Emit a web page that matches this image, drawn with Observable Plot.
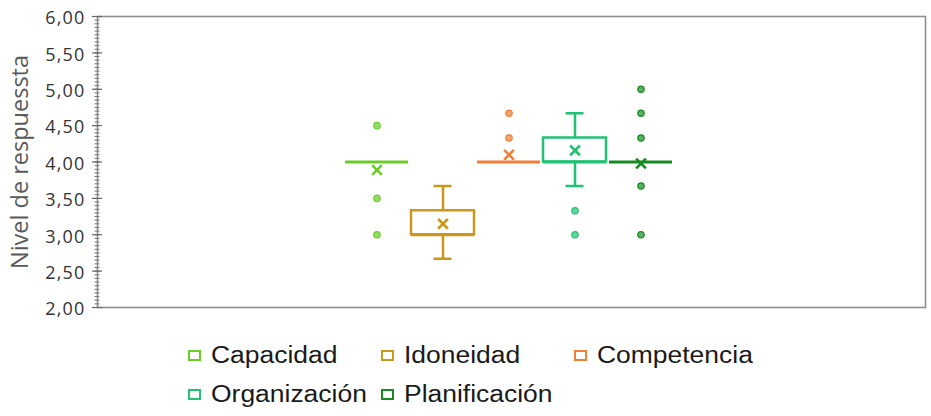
<!DOCTYPE html>
<html>
<head>
<meta charset="utf-8">
<script src="https://cdn.jsdelivr.net/npm/d3@7"></script>
<script src="https://cdn.jsdelivr.net/npm/@observablehq/plot@0.6"></script>
<style>
  body { margin: 0; background: #fff; }
  #chart svg { display: block; }
  #chart g[aria-label="y-axis tick label"] text { letter-spacing: 1.2px; }
  .legend { display: grid; grid-template-columns: repeat(3, 193px); grid-auto-rows: 39px; padding-left: 188px; margin-top: 16px; font-family: "Liberation Sans", Arial, sans-serif; font-size: 23px; color: #1a1a1a; }
  .item { display: flex; align-items: center; }
  .sw { width: 13px; height: 11px; box-sizing: border-box; border: 2.8px solid; background: #fff; margin-right: 10px; flex: none; }
  .tx { display: inline-block; transform: scaleX(1.15); transform-origin: left center; white-space: nowrap; }
</style>
</head>
<body>
<div id="chart"></div>
<div class="legend" id="legend"></div>
<script>
const categories = ["Capacidad", "Idoneidad", "Competencia", "Organización", "Planificación"];
const colors = ["#6acd28", "#c8991a", "#f07f38", "#22c274", "#178b22"];
const q1 =     [4.00, 3.00, 4.00, 4.00, 4.00];
const median = [4.00, 3.00, 4.00, 4.00, 4.00];
const q3 =     [4.00, 3.33, 4.00, 4.33, 4.00];
const whiskerLow =  [4.00, 2.67, 4.00, 3.67, 4.00];
const whiskerHigh = [4.00, 3.67, 4.00, 4.67, 4.00];
const mean =   [3.89, 3.15, 4.10, 4.16, 3.98];
const outliers = [
  ["Capacidad", [4.5, 3.5, 3.0]],
  ["Idoneidad", []],
  ["Competencia", [4.67, 4.33]],
  ["Organización", [3.33, 3.0]],
  ["Planificación", [5.0, 4.67, 4.33, 3.67, 3.0]]
];
const yTicks = [2, 2.5, 3, 3.5, 4, 4.5, 5, 5.5, 6];
const yLabel = "Nivel de respuessta";

const stats = categories.map((c, i) => ({
  cat: c, q1: q1[i], median: median[i], q3: q3[i],
  lo: whiskerLow[i], hi: whiskerHigh[i], mean: mean[i]
}));
const outlierRows = outliers.flatMap(([c, vs]) => vs.map(v => ({cat: c, value: v})));
const minorTicks = d3.range(200, 601, 5).map(d => d / 100);
const fmt = d => d.toFixed(2).replace(".", ",");
const color = {domain: categories, range: colors};
const whiskered = stats.filter(d => d.hi > d.lo);

const plot = Plot.plot({
  width: 931,
  height: 320,
  marginLeft: 97,
  marginRight: 6,
  marginTop: 16,
  marginBottom: 13,
  style: {fontFamily: "Open Sans, sans-serif", background: "#fff"},
  x: {domain: categories, range: [342, 675], paddingInner: 0.05, paddingOuter: 0.025, axis: null},
  y: {domain: [2, 6]},
  color,
  marks: [
    Plot.frame({stroke: "#8f8f8f", strokeWidth: 1.6}),
    Plot.axisY({ticks: minorTicks, tickSize: 5, dx: 2.5, text: null, stroke: "#777", strokeWidth: 1}),
    Plot.axisY({ticks: yTicks, tickSize: 10, dx: 5, text: null, stroke: "#666", strokeWidth: 1.2}),
    Plot.axisY({ticks: yTicks, tickSize: 0, tickPadding: 12, dy: 2, tickFormat: fmt, fontSize: 18, fill: "#333", label: null}),
    Plot.text([yLabel], {frameAnchor: "left", textAnchor: "middle", rotate: -90, dx: -77, fontSize: 23.5, fill: "#5a5a5a", fontFamily: "Open Sans, sans-serif"}),
    // whiskers
    Plot.ruleX(whiskered, {x: "cat", y1: "q3", y2: "hi", stroke: "cat", strokeWidth: 2.5}),
    Plot.ruleX(whiskered, {x: "cat", y1: "lo", y2: "q1", stroke: "cat", strokeWidth: 2.5}),
    Plot.tickY(whiskered, {x: "cat", y: "hi", stroke: "cat", strokeWidth: 2.5, insetLeft: 22.5, insetRight: 22.5}),
    Plot.tickY(whiskered, {x: "cat", y: "lo", stroke: "cat", strokeWidth: 2.5, insetLeft: 22.5, insetRight: 22.5}),
    // box
    Plot.rect(stats.filter(d => d.q3 > d.q1), {x: "cat", y1: "q1", y2: "q3", stroke: "cat", fill: "#fff", strokeWidth: 2.5}),
    Plot.tickY(stats, {x: "cat", y: "median", stroke: "cat", strokeWidth: 2.8}),
    // outliers
    Plot.dot(outlierRows, {x: "cat", y: "value", fill: "cat", stroke: "cat", fillOpacity: 0.7, strokeWidth: 1.2, r: 3.2}),
    // mean
    Plot.dot(stats, {x: "cat", y: "mean", symbol: "times", stroke: "cat", strokeWidth: 2.6, r: 4.5})
  ]
});
document.getElementById("chart").append(plot);

const legend = document.getElementById("legend");
categories.forEach((c, i) => {
  const it = document.createElement("div");
  it.className = "item";
  const sw = document.createElement("span");
  sw.className = "sw";
  sw.style.borderColor = colors[i];
  const tx = document.createElement("span");
  tx.className = "tx";
  tx.textContent = c;
  it.append(sw, tx);
  legend.append(it);
});
</script>
</body>
</html>
